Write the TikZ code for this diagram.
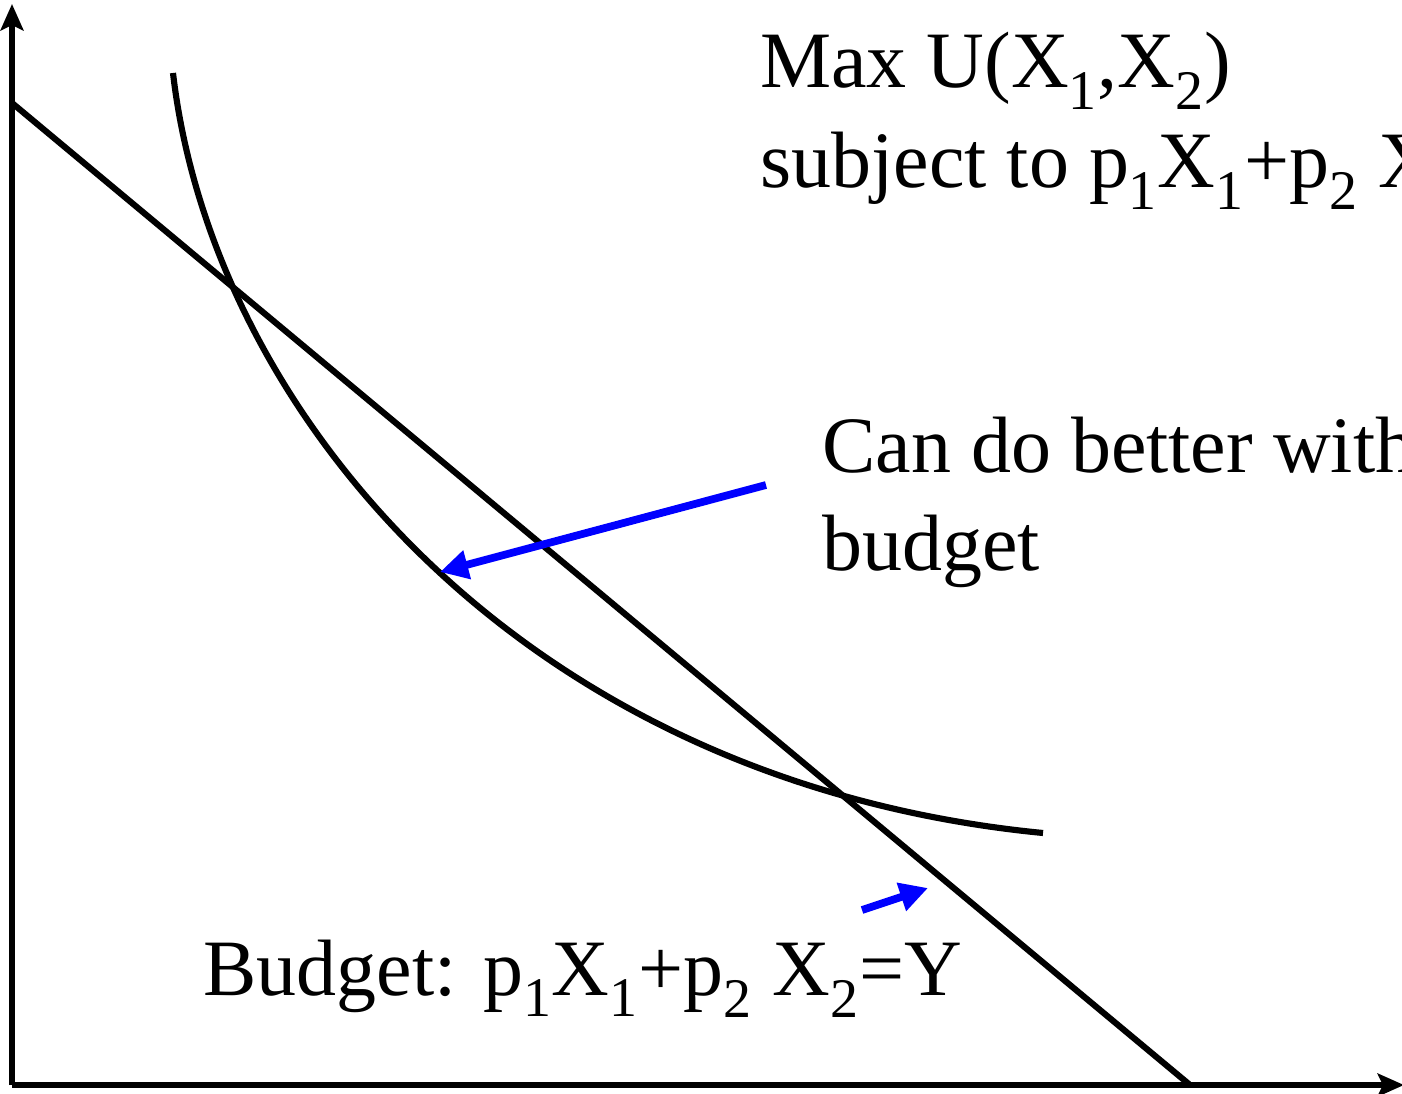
\documentclass[tikz,border=0pt]{standalone}
\usepackage{fontspec}
\setmainfont{Liberation Serif}
\usepackage{xcolor}
\usetikzlibrary{positioning,arrows.meta,calc}

\begin{document}
\begin{tikzpicture}[x=0.02cm,y=-0.02cm,
  axis/.style={line width=3.5pt,-{Stealth[length=15pt,width=13pt,inset=3pt]}},
  curve/.style={line width=3.5pt},
  hint/.style={blue,line width=4.4pt,-{Triangle[length=16pt,width=16pt]}},
  label/.style={font=\fontsize{45.5}{57}\selectfont,inner sep=0pt,anchor=base west}]
\useasboundingbox (0,0) rectangle (1402,1094);
\clip (0,0) rectangle (1402,1094);
\coordinate (O) at (12,1085);
\coordinate (Ytop) at (12,4);
\coordinate (Xend) at (1404,1085);
\draw[axis] (O)--(Ytop);
\draw[axis] (O)--(Xend);
% budget line and indifference curve
\coordinate (B1) at (12,103);
\coordinate (B2) at (1190,1085);
\draw[curve] (B1)--(B2);
\coordinate (U1) at (173,73);
\coordinate (U2) at (1043,833);
\draw[curve] (U1) .. controls (212,410) and (520,782) .. (U2);
% labels
\node[label] (maxU) at (760,88) {Max U(X\textsubscript{1},X\textsubscript{2})};
\node[label] (subj) at (760,188) {subject to p\textsubscript{1}X\textsubscript{1}+p\textsubscript{2} X\textsubscript{2}=Y};
\node[label] (better) at (822,472) {Can do better with the same};
\node[label] (better2) at (822,570) {budget};
\node[label] (budget) at (203,995) {Budget: p\textsubscript{1}X\textsubscript{1}+p\textsubscript{2} X\textsubscript{2}=Y};
% pointers
\coordinate (A1) at (766,485);
\coordinate (A2) at (440,572);
\draw[hint] (A1)--(A2);
\coordinate (C1) at (862,910);
\coordinate (C2) at (928,888);
\draw[hint] (C1)--(C2);
\end{tikzpicture}
\end{document}
